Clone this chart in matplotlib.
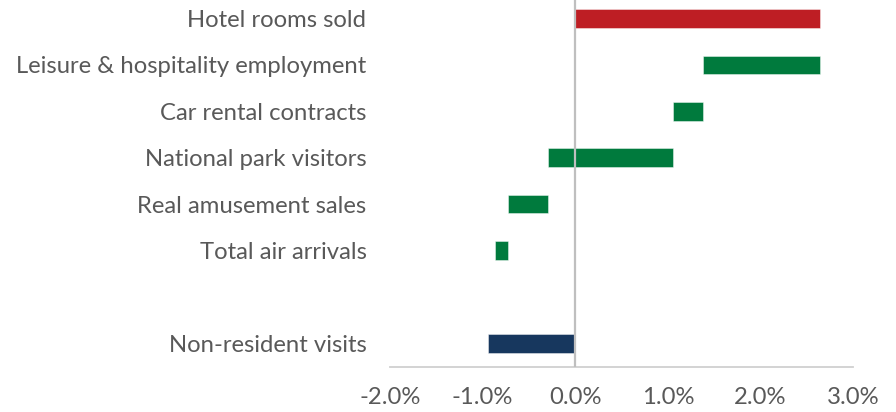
import matplotlib.pyplot as plt
from matplotlib.ticker import FuncFormatter

# contribution of each indicator (percentage points), drawn as floating bars
categories = ['Hotel rooms sold', 'Leisure & hospitality employment', 'Car rental contracts',
              'National park visitors', 'Real amusement sales', 'Total air arrivals',
              '', 'Non-resident visits']
bar_start = [0.0, 1.38, 1.06, -0.29, -0.73, -0.87, 0.0, 0.0]
bar_end = [2.64, 2.64, 1.38, 1.06, -0.29, -0.73, 0.0, -0.94]
bar_kind = ['total', 'step', 'step', 'step', 'step', 'step', 'blank', 'base']

kind_colors = {'total': '#BE1E24', 'step': '#007A3D', 'base': '#17375E', 'blank': 'none'}
text_grey = '#595959'

plt.rcParams['font.family'] = ['Lato', 'DejaVu Sans']

fig = plt.figure(figsize=(8.96, 4.12), dpi=100)
ax = fig.add_axes([0.4353, 0.1104, 0.5167, 0.9011])

ys = range(len(categories))
widths = [e - s for s, e in zip(bar_start, bar_end)]
ax.barh(ys, widths, left=bar_start, height=0.4,
        color=[kind_colors[k] for k in bar_kind],
        edgecolor=(1, 1, 1, 0.5), linewidth=0.6, zorder=2)

ax.axvline(0, color='#BFBFBF', linewidth=1.6, zorder=3)

ax.set_xlim(-2, 3)
ax.set_ylim(len(categories) - 0.5, -0.5)
ax.set_xticks([-2, -1, 0, 1, 2, 3])
ax.xaxis.set_major_formatter(FuncFormatter(lambda v, p: f'{v:.1f}%'))
ax.set_yticks(list(ys))
ax.set_yticklabels(categories)

ax.tick_params(axis='both', length=0, labelsize=17.2, labelcolor=text_grey)
ax.tick_params(axis='x', pad=15)
ax.tick_params(axis='y', pad=17)

for side in ['top', 'right', 'left']:
    ax.spines[side].set_visible(False)
ax.spines['bottom'].set_color('#D0D0D0')
ax.spines['bottom'].set_linewidth(1.3)

fig.savefig('out.png', dpi=100)
